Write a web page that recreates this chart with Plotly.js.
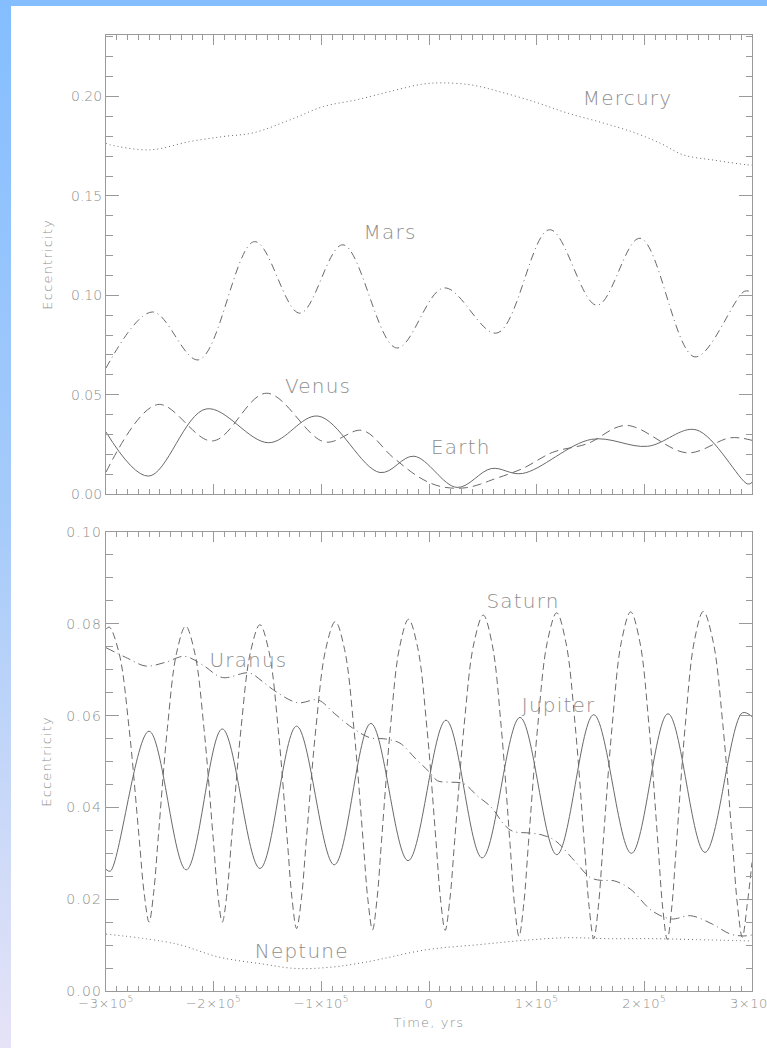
<!DOCTYPE html>
<html><head><meta charset="utf-8">
<script src="https://cdn.plot.ly/plotly-3.0.1.min.js"></script>
<style>
html,body{margin:0;padding:0;width:767px;height:1048px;overflow:hidden;
 background:linear-gradient(to bottom,#84BEFF 0%,#A6CBFA 50%,#E6E3F7 100%);}
#chart{position:absolute;left:11px;top:6px;width:756px;height:1042px;background:#fff;}
#chart .annotation-text{letter-spacing:1.2px;}
#chart .ytick text{letter-spacing:1.2px;}
#chart .xtick text{letter-spacing:0.5px;}
</style></head>
<body><div id="chart"></div>
<script>
// ---- data (time in thousands of years, eccentricity) ----
const mercuryT = [-300,-296,-259,-222,-191,-163,-129,-98,-67,-36,-5.6,13,40,66,100,128,160,190,215,236,265,295,300];
const mercuryE = [0.1765,0.1757,0.1732,0.1774,0.1799,0.1818,0.1883,0.1950,0.1984,0.2026,0.2063,0.2069,0.2058,0.2024,0.1970,0.1918,0.1870,0.1820,0.1765,0.1707,0.1680,0.1657,0.1655];

const marsT = [-300,-257,-214,-162,-120,-80,-30,14,63,112,156,196,247,293,300];
const marsE = [0.0634,0.0916,0.0675,0.1270,0.0910,0.1254,0.0735,0.1037,0.0810,0.1330,0.0950,0.1287,0.0690,0.1020,0.1015];

const venusT = [-300,-252,-201,-151,-97,-62,-34,-10,6,20,35,48,58,87,115,147,183,240,280,300];
const venusE = [0.0110,0.0450,0.0267,0.0507,0.0262,0.0320,0.0187,0.0087,0.0045,0.0030,0.0032,0.0050,0.0070,0.0128,0.0210,0.0253,0.0345,0.0207,0.0283,0.0270];

const earthT = [-300,-260.5,-207,-149,-103,-45.5,-14,26,58,86.6,151,203,248,296,300];
const earthE = [0.0312,0.0090,0.0428,0.0258,0.0392,0.0108,0.0190,0.0033,0.0128,0.0103,0.0275,0.0240,0.0323,0.0050,0.0058];

const jupiterT = [-300,-296,-260,-225.5,-192,-157,-123,-88,-54,-19.4,15.8,49.4,84.5,118.7,153,188,222,256.3,291,300];
const jupiterE = [0.0265,0.0261,0.0566,0.0264,0.0571,0.0267,0.0577,0.0275,0.0583,0.0284,0.0590,0.0290,0.0596,0.0297,0.0602,0.0300,0.0604,0.0302,0.0606,0.0598];

const saturnT = [-300,-297,-287.75,-278.5,-269.25,-264.6,-260,-255.75,-251.5,-243,-234.5,-226,-217.5,-209,-200.5,-196.25,-192,-187.6,-183.25,-174.5,-165.75,-157,-148.5,-140,-131.5,-127.25,-123,-118.5,-114,-105,-96,-87,-78.4,-69.75,-61.1,-56.8,-52.5,-48.3,-44.1,-35.75,-27.4,-19,-10.5,-2,6.5,10.75,15,19.4,23.85,32.7,41.55,50.4,58.7,67,75.3,79.45,83.6,88,92.35,101.1,109.85,118.6,127.2,135.8,144.4,148.7,153,157.3,161.6,170.2,178.7,187.3,195.8,204.3,212.8,217,221.3,225.5,229.7,238.05,246.4,254.8,263.85,272.9,281.95,286.5,291,295.5,300];
const saturnE = [0.0788,0.0793,0.0735,0.0571,0.0334,0.0214,0.0150,0.0214,0.0334,0.0572,0.0736,0.0795,0.0736,0.0572,0.0334,0.0214,0.0150,0.0214,0.0335,0.0574,0.0739,0.0798,0.0738,0.0569,0.0325,0.0202,0.0136,0.0202,0.0327,0.0574,0.0744,0.0805,0.0744,0.0572,0.0325,0.0200,0.0133,0.0200,0.0327,0.0576,0.0748,0.0810,0.0748,0.0575,0.0326,0.0199,0.0132,0.0200,0.0328,0.0581,0.0756,0.0819,0.0755,0.0577,0.0319,0.0188,0.0119,0.0189,0.0321,0.0580,0.0760,0.0824,0.0759,0.0578,0.0317,0.0184,0.0114,0.0184,0.0318,0.0580,0.0761,0.0826,0.0761,0.0579,0.0316,0.0183,0.0112,0.0183,0.0316,0.0580,0.0762,0.0827,0.0762,0.0581,0.0320,0.0187,0.0117,0.0187,0.0280];

const uranusT = [-300,-280,-263,-245,-227,-210,-192,-167,-155,-142,-122,-103,-88,-71,-55,-40,-27,-12,0,8,20,32,45,58,70,78,95,105,117,135,150,160,172,187,207,225,243,263,280,292,300];
const uranusE = [0.0748,0.0725,0.0708,0.0716,0.0729,0.0710,0.0683,0.0693,0.0675,0.0652,0.0628,0.0634,0.0605,0.0573,0.0552,0.0549,0.0540,0.0505,0.0478,0.0458,0.0455,0.0452,0.0425,0.0400,0.0362,0.0348,0.0344,0.0340,0.0328,0.0284,0.0247,0.0241,0.0240,0.0222,0.0175,0.0157,0.0164,0.0146,0.0124,0.0120,0.0122];

const neptuneT = [-300,-235.5,-195.3,-155,-123,-90.7,-58.5,-2,46.3,86.4,126.8,167,207,247.5,300];
const neptuneE = [0.0124,0.0103,0.0074,0.0059,0.0049,0.0052,0.0063,0.0090,0.0101,0.0110,0.0116,0.0114,0.0114,0.0112,0.0109];

const xTickVals = [-300,-200,-100,0,100,200,300];
const xTickText = ['\u22123\u00d710<sup>5</sup>','\u22122\u00d710<sup>5</sup>','\u22121\u00d710<sup>5</sup>','0','1\u00d710<sup>5</sup>','2\u00d710<sup>5</sup>','3\u00d710<sup>5</sup>'];

const labelsTop = {text:['Mercury','Mars','Venus','Earth'], t:[184.8,-36.2,-102.7,30], e:[0.1994,0.132,0.0545,0.0237]};
const labelsBottom = {text:['Saturn','Jupiter','Uranus','Neptune'], t:[87.3,121,-167.5,-118], e:[0.085,0.0624,0.0721,0.0087]};

// ---- drawing ----
const K = v => v*1000;
const LC = '#6a6a6a', AX = '#9a9a9a', TX = '#8e8e8e';
const FONT = 'DejaVu Sans, sans-serif';
function tr(t,e,dash,xa,ya){
  return {x:t.map(K), y:e, mode:'lines', xaxis:xa, yaxis:ya,
    line:{color:LC, width:1, dash:dash, shape:'spline', smoothing:1}, hoverinfo:'skip'};
}
const traces = [
  tr(mercuryT,mercuryE,'1px,3px','x2','y2'),
  tr(marsT,marsE,'8px,4px,1px,4px','x2','y2'),
  tr(venusT,venusE,'9px,5px','x2','y2'),
  tr(earthT,earthE,'solid','x2','y2'),
  tr(jupiterT,jupiterE,'solid','x','y'),
  tr(saturnT,saturnE,'7px,4px','x','y'),
  tr(uranusT,uranusE,'9px,4px,1px,4px','x','y'),
  tr(neptuneT,neptuneE,'1px,3px','x','y')
];
const xtf = {family:FONT, size:13, color:TX, weight:300};
const ytf = {family:FONT, size:14, color:TX, weight:300};
function xa(extra){
  return Object.assign({range:[-300000,300000], tickmode:'array', tickvals:xTickVals.map(K), ticktext:xTickText,
    ticks:'inside', ticklen:10, tickwidth:1, tickcolor:AX, showline:true, linecolor:AX, linewidth:1,
    mirror:'allticks', showgrid:false, zeroline:false, tickfont:xtf, ticklabeloverflow:'allow',
    minor:{tickmode:'linear', tick0:0, dtick:10000, ticks:'inside', ticklen:5, tickwidth:1, tickcolor:AX, showgrid:false}}, extra);
}
function ya(extra){
  return Object.assign({ticks:'inside', ticklen:13, tickwidth:1, tickcolor:AX, showline:true, linecolor:AX, linewidth:1,
    mirror:'allticks', showgrid:false, zeroline:false, tickfont:ytf, tickformat:'.2f'}, extra);
}
const annFont = {family:FONT, size:20, color:TX, weight:300};
const anns = [];
labelsTop.text.forEach((s,i)=>anns.push({x:K(labelsTop.t[i]), y:labelsTop.e[i], xref:'x2', yref:'y2', text:s, showarrow:false, font:annFont}));
labelsBottom.text.forEach((s,i)=>anns.push({x:K(labelsBottom.t[i]), y:labelsBottom.e[i], xref:'x', yref:'y', text:s, showarrow:false, font:annFont}));
const titleFont = {family:FONT, size:13, color:TX, weight:300};
anns.push({x:0, xref:'paper', xshift:-59, xanchor:'center', y:0.76, yref:'paper', yanchor:'middle', text:'Eccentricity', textangle:-90, showarrow:false, font:titleFont});
anns.push({x:0, xref:'paper', xshift:-59, xanchor:'center', y:0.24, yref:'paper', yanchor:'middle', text:'Eccentricity', textangle:-90, showarrow:false, font:titleFont});
anns.push({x:0.5, xref:'paper', y:0, yref:'paper', yshift:-31, xanchor:'center', yanchor:'middle', text:'Time, yrs', showarrow:false, font:titleFont});

const layout = {
  width:756, height:1042, margin:{l:95, r:15, t:29, b:57},
  paper_bgcolor:'#ffffff', plot_bgcolor:'#ffffff', showlegend:false,
  xaxis: xa({anchor:'y', domain:[0,1]}),
  xaxis2: xa({anchor:'y2', domain:[0,1], matches:'x', showticklabels:false}),
  yaxis: ya({anchor:'x', domain:[0,0.4801], range:[0,0.10], dtick:0.02, tick0:0,
    minor:{dtick:0.005, ticks:'inside', ticklen:6.5, tickwidth:1, tickcolor:AX, showgrid:false}}),
  yaxis2: ya({anchor:'x2', domain:[0.5199,1], range:[0,0.231], dtick:0.05, tick0:0,
    minor:{dtick:0.01, ticks:'inside', ticklen:6.5, tickwidth:1, tickcolor:AX, showgrid:false}}),
  annotations: anns
};
Plotly.newPlot('chart', traces, layout, {displayModeBar:false, staticPlot:true});
</script></body></html>
